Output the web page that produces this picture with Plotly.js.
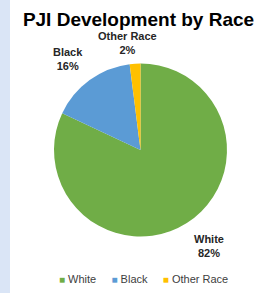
<!DOCTYPE html>
<html>
<head>
<meta charset="utf-8">
<script src="https://cdn.plot.ly/plotly-3.0.1.min.js"></script>
<style>
html, body { margin: 0; padding: 0; background: #dae5f6; width: 261px; height: 293px; overflow: hidden; }
#chart { position: absolute; left: 10px; top: 0; width: 251px; height: 293px; background: #ffffff; }
</style>
</head>
<body>
<div id="chart"></div>
<script>
var categories = ["White", "Black", "Other Race"];
var values = [82, 16, 2];
var colors = ["#70ad47", "#5b9bd5", "#ffc000"];

// label anchor positions (paper coords) for outside data labels
var labelPos = [
  {x: 0.793, y: 0.160},
  {x: 0.231, y: 0.800},
  {x: 0.470, y: 0.853}
];

var FONT = "Liberation Sans, Arial, sans-serif";
var total = values.reduce(function (a, b) { return a + b; }, 0);
var annotations = categories.map(function (c, i) {
  return {
    text: "<b>" + c + "<br>" + Math.round(values[i] / total * 100) + "%</b>",
    xref: "paper", yref: "paper",
    x: labelPos[i].x, y: labelPos[i].y,
    xanchor: "center", yanchor: "middle",
    showarrow: false,
    font: {family: FONT, size: 11, color: "#262626"}
  };
});

// legend row built from the category and colour arrays
var legendText = categories.map(function (c, i) {
  return '<span style="color:' + colors[i] + ';font-size:10px">\u25A0</span>' +
         '<span style="color:#404040"> ' + c + '</span>';
}).join('<span style="color:#404040">\u00A0\u00A0\u00A0\u00A0\u00A0</span>');
annotations.push({
  text: legendText,
  xref: "paper", yref: "paper",
  x: 0.53, y: 0.048,
  xanchor: "center", yanchor: "middle",
  showarrow: false,
  font: {family: FONT, size: 11, color: "#404040"}
});

var trace = {
  type: "pie",
  labels: categories,
  values: values,
  marker: {colors: colors, line: {width: 0}},
  sort: false,
  direction: "clockwise",
  rotation: 0,
  textinfo: "none",
  hoverinfo: "label+percent",
  domain: {x: [0.1753, 0.8645], y: [0.1928, 0.7833]}
};

var layout = {
  width: 251, height: 293,
  margin: {l: 0, r: 0, t: 0, b: 0},
  paper_bgcolor: "#ffffff",
  plot_bgcolor: "#ffffff",
  title: {
    text: "<b>PJI Development by Race</b>",
    font: {family: FONT, size: 19, color: "#000000"},
    x: 0.512, xanchor: "center", xref: "container",
    y: 0.935, yanchor: "middle", yref: "container"
  },
  showlegend: false,
  annotations: annotations
};

Plotly.newPlot("chart", [trace], layout, {displayModeBar: false, staticPlot: true});
</script>
</body>
</html>
